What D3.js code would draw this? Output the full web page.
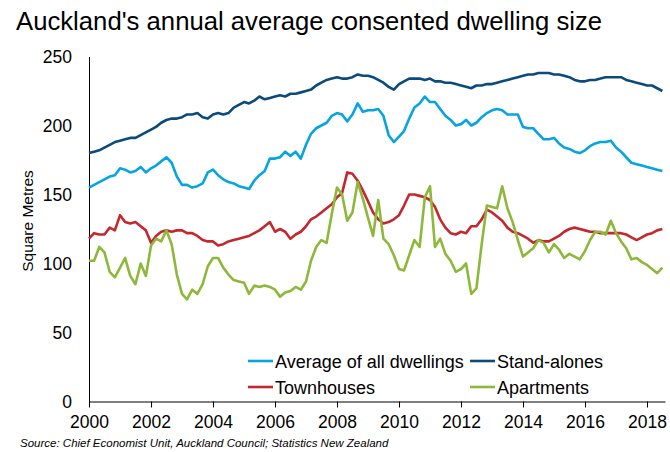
<!DOCTYPE html>
<html>
<head>
  <meta charset="utf-8">
  <title>Auckland dwelling size</title>
  <script src="https://d3js.org/d3.v7.min.js"></script>
  <style>
    body { margin: 0; background: #fff; }
    svg { font-family: "Liberation Sans", Arial, sans-serif; }
  </style>
</head>
<body>
<svg id="canvas" width="670" height="452"></svg>
<script>
  // bi-monthly readings, Jan 2000 .. Jul 2018
  const startMonth = new Date(2000, 0, 1);
  const endMonth = new Date(2018, 6, 1);
  const months = d3.timeMonth.every(2).range(startMonth, d3.timeMonth.offset(endMonth, 1));

  const average = [
    155,157,159,161,163,164, 169,168,166,167,170,166, 169,171,174,177,173,163,
    157,157,155,156,158,166, 168,164,161,159,158,156, 155,154,160,164,167,176,
    176,177,181,178,181,176, 186,194,198,200,202,207, 209,208,203,208,216,210,
    211,211,212,207,193,188, 192,196,205,213,216,221, 217,217,212,207,204,200,
    201,204,200,202,206,209, 211,212,211,208,208,208, 199,198,198,194,190,190,
    191,187,184,183,181,180, 182,185,187,188,188,189, 184,181,177,173,172,171,
    170,169,168,167
  ];
  const standAlones = [
    180,181,182,184,186,188, 189,190,191,191,193,195, 197,199,202,204,205,205,
    206,208,208,209,206,205, 208,209,208,209,213,215, 217,216,218,221,219,220,
    221,222,221,223,223,224, 225,226,229,231,233,234, 235,234,234,235,237,236,
    236,235,233,231,228,226, 230,232,234,234,234,233, 234,232,232,231,231,230,
    229,228,227,229,229,230, 230,231,232,233,234,235, 236,237,237,238,238,238,
    237,237,236,235,233,232, 232,233,233,234,235,235, 235,235,233,232,231,230,
    229,229,227,225
  ];
  const townhouses = [
    118,122,121,121,126,124, 135,130,129,130,127,124, 115,120,123,124,123,124,
    124,122,122,120,117,116, 116,113,114,116,117,118, 119,120,122,124,127,130,
    123,125,123,118,121,123, 127,132,134,137,140,143, 148,151,166,165,160,153,
    145,137,132,129,130,132, 135,142,150,150,149,148, 146,141,132,126,122,121,
    123,122,127,127,132,139, 137,134,131,126,123,122, 120,118,115,117,116,116,
    118,120,123,125,126,125, 124,123,123,122,122,122, 122,122,121,119,117,119,
    121,122,124,125
  ];
  const apartments = [
    102,102,112,108,94,90, 97,104,91,85,100,91, 113,118,116,124,114,92,
    78,74,81,78,85,98, 104,104,97,92,88,87, 86,78,84,83,84,83,
    81,76,79,80,83,81, 87,102,112,117,115,136, 155,150,131,137,159,147,
    133,120,146,118,114,106, 96,95,106,117,112,148, 156,112,118,107,102,94,
    96,100,78,82,114,142, 141,140,156,140,130,117, 105,108,111,117,115,108,
    114,110,104,107,105,103, 109,117,123,123,121,131, 122,116,111,103,104,101,
    99,96,93,97
  ];

  const seriesNames = ['Average of all dwellings', 'Stand-alones', 'Townhouses', 'Apartments'];
  const seriesColors = ['#07a4e2', '#0b4a7c', '#c4282d', '#8db83a'];
  const seriesValues = [average, standAlones, townhouses, apartments];
  const yTicks = [0, 50, 100, 150, 200, 250];
  const xTickYears = [2000, 2002, 2004, 2006, 2008, 2010, 2012, 2014, 2016, 2018];

  const svg = d3.select('#canvas');

  const x = d3.scaleTime()
    .domain([startMonth, new Date(2018, 7, 1)])
    .range([89, 665]);
  const y = d3.scaleLinear()
    .domain([0, 250])
    .range([401.5, 56.5]);

  // title
  svg.append('text')
    .attr('x', 16)
    .attr('y', 30)
    .attr('font-size', 25.7)
    .attr('fill', '#000')
    .text("Auckland's annual average consented dwelling size");

  // y axis (line + labels, no ticks)
  const yAxis = svg.append('g')
    .attr('transform', 'translate(89,0)')
    .call(d3.axisLeft(y).tickValues(yTicks).tickSize(0).tickPadding(17));
  yAxis.select('.domain').attr('stroke', '#000').attr('stroke-width', 1);
  yAxis.selectAll('text').attr('font-size', 17.5).attr('fill', '#000')
    .attr('font-family', '"Liberation Sans", Arial, sans-serif');

  svg.append('text')
    .attr('transform', 'translate(33,221) rotate(-90)')
    .attr('text-anchor', 'middle')
    .attr('font-size', 15.5)
    .attr('fill', '#000')
    .text('Square Metres');

  // x axis
  const xAxis = svg.append('g')
    .attr('transform', 'translate(0,' + y(0) + ')')
    .call(d3.axisBottom(x)
      .tickValues(xTickYears.map(yr => new Date(yr, 0, 1)))
      .tickFormat(d3.timeFormat('%Y'))
      .tickSizeInner(6).tickSizeOuter(0).tickPadding(8));
  xAxis.select('.domain').attr('stroke', '#000').attr('stroke-width', 1);
  xAxis.selectAll('.tick line').attr('stroke', '#000');
  xAxis.selectAll('text').attr('font-size', 17.5).attr('fill', '#000')
    .attr('font-family', '"Liberation Sans", Arial, sans-serif');

  // lines
  const line = d3.line()
    .x((d, i) => x(months[i]))
    .y(d => y(d));

  seriesValues.forEach((vals, k) => {
    svg.append('path')
      .datum(vals)
      .attr('d', line)
      .attr('fill', 'none')
      .attr('stroke', seriesColors[k])
      .attr('stroke-width', 2.6)
      .attr('stroke-linejoin', 'round');
  });

  // legend
  const legendPos = [[248, 361], [470, 361], [248, 387], [470, 387]];
  seriesNames.forEach((name, k) => {
    const g = svg.append('g').attr('transform', 'translate(' + legendPos[k][0] + ',' + legendPos[k][1] + ')');
    g.append('line')
      .attr('x1', 0).attr('x2', 25)
      .attr('stroke', seriesColors[k])
      .attr('stroke-width', 2.6);
    g.append('text')
      .attr('x', 27)
      .attr('y', 6.5)
      .attr('font-size', 18)
      .attr('fill', '#000')
      .text(name);
  });

  // source note
  svg.append('text')
    .attr('x', 20)
    .attr('y', 447)
    .attr('font-size', 11.5)
    .attr('font-style', 'italic')
    .attr('fill', '#000')
    .text('Source: Chief Economist Unit, Auckland Council; Statistics New Zealand');
</script>
</body>
</html>
